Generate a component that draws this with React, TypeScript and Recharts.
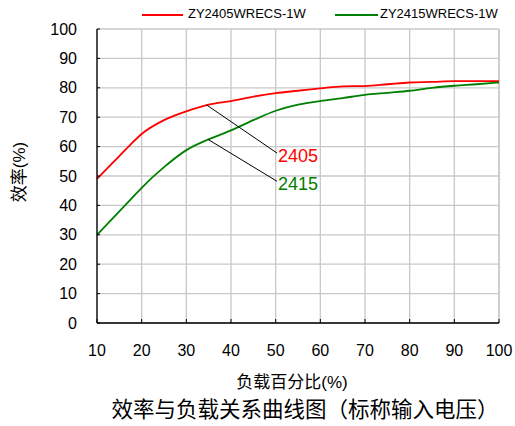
import React from "react";
import {
  LineChart,
  Line,
  XAxis,
  YAxis,
  CartesianGrid,
  ReferenceLine,
  ReferenceDot,
} from "recharts";

const loads = [10, 15, 17.5, 20, 25, 30, 35, 40, 45, 50, 55, 60, 65, 70, 75, 80, 85, 90, 95, 100];
const eff2405 = [49, 56.8, 60.7, 64.3, 69, 72, 74.3, 75.5, 77, 78.2, 79, 79.8, 80.5, 80.6, 81.2, 81.8, 82, 82.3, 82.3, 82.3];
const eff2415 = [30, 38, 42, 46, 53, 58.8, 62.5, 65.5, 69, 72.2, 74.3, 75.5, 76.5, 77.6, 78.3, 79, 80, 80.7, 81.2, 81.8];
const xTicks = [10, 20, 30, 40, 50, 60, 70, 80, 90, 100];
const yTicks = [0, 10, 20, 30, 40, 50, 60, 70, 80, 90, 100];
const seriesNames = ["ZY2405WRECS-1W", "ZY2415WRECS-1W"];
const calloutLabels = ["2405", "2415"];
// callout segments: [fromX, fromY, toX, toY]
const callout2405 = [34.5, 74.2, 50.3, 57.8];
const callout2415 = [34.8, 62.5, 50.3, 48.2];

const data = loads.map((l, i) => ({ load: l, a: eff2405[i], b: eff2415[i] }));

const FONT = "'Liberation Sans', Arial, 'Noto Sans CJK SC', sans-serif";
const RED = "#ff0000";
const GREEN = "#008000";

const makeLabel = (text: string, color: string) => (props: any) => {
  const vb = props.viewBox || {};
  const cx = (vb.x ?? 0) + (vb.width ?? 0) / 2;
  const cy = (vb.y ?? 0) + (vb.height ?? 0) / 2;
  return (
    <text x={cx + 1} y={cy + 9} fill={color} fontSize={18} fontFamily={FONT}>
      {text}
    </text>
  );
};

export default function App() {
  return (
    <div style={{ position: "absolute", left: 0, top: 0, width: 515, height: 426, background: "#fff", fontFamily: FONT }}>
      <LineChart
        width={515}
        height={426}
        data={data}
        margin={{ top: 29, right: 16, bottom: 73, left: 37 }}
      >
        <CartesianGrid stroke="#c8c8c8" strokeWidth={1.3} verticalValues={xTicks} horizontalValues={yTicks} />
        <ReferenceLine x={100} stroke="#c8c8c8" strokeWidth={1.3} />
        <XAxis
          dataKey="load"
          type="number"
          domain={[10, 100]}
          ticks={xTicks}
          height={30}
          axisLine={{ stroke: "#000", strokeWidth: 1.3 }}
          tickLine={{ stroke: "#000" }}
          tickSize={-4}
          tickMargin={26}
          tick={{ fill: "#000", fontSize: 16, fontFamily: FONT }}
          interval={0}
        />
        <YAxis
          type="number"
          domain={[0, 100]}
          ticks={yTicks}
          width={60}
          axisLine={{ stroke: "#000", strokeWidth: 1.3 }}
          tickLine={{ stroke: "#000" }}
          tickSize={-3}
          tickMargin={23}
          tick={{ fill: "#000", fontSize: 16, fontFamily: FONT }}
          interval={0}
        />
        <Line type="monotone" dataKey="a" stroke={RED} strokeWidth={1.8} dot={false} isAnimationActive={false} />
        <Line type="monotone" dataKey="b" stroke={GREEN} strokeWidth={1.8} dot={false} isAnimationActive={false} />
        <ReferenceLine
          segment={[{ x: callout2405[0], y: callout2405[1] }, { x: callout2405[2], y: callout2405[3] }]}
          stroke="#000"
          strokeWidth={1}
        />
        <ReferenceLine
          segment={[{ x: callout2415[0], y: callout2415[1] }, { x: callout2415[2], y: callout2415[3] }]}
          stroke="#000"
          strokeWidth={1}
        />
        <ReferenceDot x={callout2405[2]} y={callout2405[3]} r={1} fill="none" stroke="none" label={makeLabel(calloutLabels[0], RED)} />
        <ReferenceDot x={callout2415[2]} y={callout2415[3]} r={1} fill="none" stroke="none" label={makeLabel(calloutLabels[1], GREEN)} />
      </LineChart>

      {/* legend */}
      <div style={{ position: "absolute", left: 142, top: 14, width: 41, height: 0, borderTop: `2px solid ${RED}` }} />
      <div style={{ position: "absolute", left: 188, top: 6, fontSize: 13, lineHeight: "16px", color: "#000", whiteSpace: "nowrap" }}>{seriesNames[0]}</div>
      <div style={{ position: "absolute", left: 335, top: 14, width: 43, height: 0, borderTop: `2px solid ${GREEN}` }} />
      <div style={{ position: "absolute", left: 380, top: 6, fontSize: 13, lineHeight: "16px", color: "#000", whiteSpace: "nowrap" }}>{seriesNames[1]}</div>

      {/* y axis label */}
      <div style={{ position: "absolute", left: 20, top: 172, transform: "translate(-50%, -50%) rotate(-90deg)", fontSize: 17, lineHeight: "20px", whiteSpace: "nowrap", color: "#000" }}>效率(%)</div>
      {/* x axis label */}
      <div style={{ position: "absolute", left: 292, top: 383, transform: "translate(-50%, -50%)", fontSize: 17, lineHeight: "20px", whiteSpace: "nowrap", color: "#000" }}>负载百分比(%)</div>
      {/* title */}
      <div style={{ position: "absolute", left: 305, top: 410, transform: "translate(-50%, -50%)", fontSize: 21.5, lineHeight: "24px", whiteSpace: "nowrap", color: "#000" }}>效率与负载关系曲线图（标称输入电压）</div>
    </div>
  );
}
